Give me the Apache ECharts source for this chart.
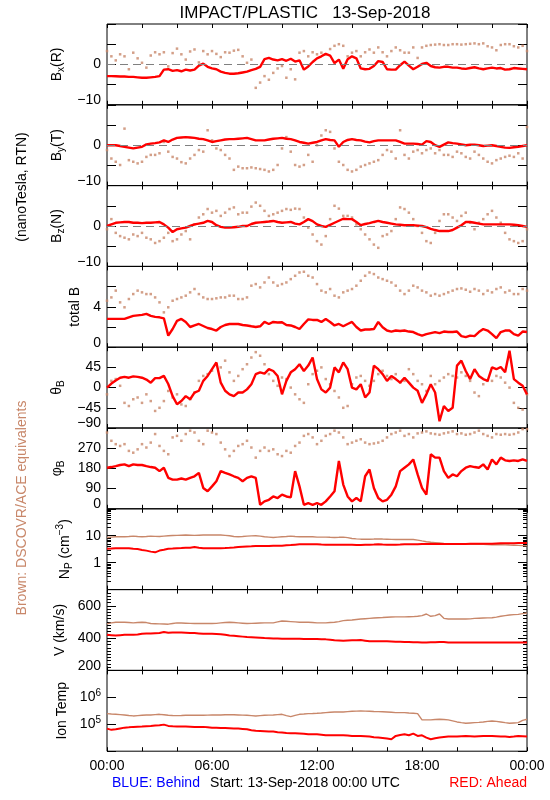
<!DOCTYPE html>
<html><head><meta charset="utf-8">
<script src="https://cdn.jsdelivr.net/npm/echarts@6/dist/echarts.min.js"></script>
<style>html,body{margin:0;padding:0;background:#fff}#c{width:550px;height:800px}</style>
</head><body><div id="c"></div>
<script>
const FONT = 'Liberation Sans, Arial, Helvetica, sans-serif';
const BROWN = '#c8876a';
const RED = '#ff0000';

const xTickLabels = ['00:00', '06:00', '12:00', '18:00', '00:00'];
// one sample every 15 minutes, 00:00 .. 24:00 (97 samples), grouped by hour
const bxAhead = [
 -2.9,-2.9,-2.95,-3.0, -3.0,-3.1,-3.1,-3.2, -3.3,-3.3,-3.2,-3.1, -2.9,-1.3,-1.2,-1.6,
 -1.4,-1.7,-1.3,-1.5, -1.3,-0.3,0.2,-0.6, -1.0,-1.2,-1.8,-2.1, -2.3,-2.3,-2.2,-2.0,
 -1.8,-1.4,-1.1,-0.6, 1.3,1.6,1.2,1.0, 1.3,0.9,1.4,0.7, 1.0,-1.3,-0.5,0.6,
 1.5,2.0,2.6,2.2, 0.3,1.2,-1.1,1.3, 2.0,1.5,-1.0,-1.2, -1.1,-0.4,0.8,0.6,
 -1.2,-1.3,-1.3,-0.2, 0.7,-0.3,-1.2,-0.6, 0.1,0.4,-0.4,-0.7, -0.8,-0.6,-0.6,-0.8,
 -0.8,-1.0,-1.1,-0.9, -0.7,-1.0,-1.2,-1.0, -0.8,-1.0,-0.9,-1.3, -1.2,-0.9,-1.0,-1.1, -1.2];
const bxAce = [
 3.3,2.0,1.0,2.5, 2.0,-1.2,2.9,1.5, 0.4,-0.8,2.2,3.0, 2.5,3.0,-0.5,2.8,
 3.9,2.5,1.2,3.2, 3.7,0.5,3.3,2.5, 3.3,2.6,1.8,3.0, 2.9,3.4,3.6,2.0,
 0.4,1.2,-5.8,-4.5, -2.9,-3.8,-2.1,-1.0, -0.4,-3.3,-1.2,-3.7, 2.9,3.3,2.0,3.0,
 2.5,2.9,2.5,3.8, 4.6,5.0,4.6,2.0, 2.9,3.3,2.0,3.0, 3.7,2.9,4.2,3.0,
 2.0,3.3,4.2,3.5, 2.9,2.9,4.2,1.6, 4.2,4.6,4.8,4.9, 5.0,4.8,4.8,5.0,
 5.0,4.9,5.0,5.1, 5.2,5.0,5.2,4.5, 4.2,3.5,4.8,5.0, 5.0,4.5,4.2,4.6, 3.3];
const byAhead = [
 0.0,0.0,0.0,-0.2, -0.4,-0.6,-0.8,-0.6, -0.4,0.2,0.4,0.5, 0.7,1.2,0.8,1.4,
 1.8,1.9,2.0,1.9, 1.8,1.6,1.5,1.2, 0.8,1.0,1.2,1.4, 1.5,1.5,1.6,1.7,
 1.8,1.5,1.2,1.2, 1.2,1.4,1.6,1.7, 1.8,1.6,1.5,1.2, 0.8,0.6,0.4,0.6,
 0.8,1.2,1.5,1.3, 1.2,-0.4,0.8,1.3, 1.5,1.3,1.2,0.9, 0.7,1.0,1.2,1.2,
 1.2,1.2,1.2,0.8, 0.4,0.4,0.4,0.3, 0.15,1.0,0.8,0.0, -0.4,0.15,0.7,0.5,
 0.4,0.2,0.0,0.1, 0.15,0.0,-0.2,-0.1, 0.0,-0.2,-0.4,-0.6, -0.65,-0.5,-0.4,-0.2, 0.0];
const byAce = [
 -1.2,-3.3,-4.1,-4.9, 4.1,-3.7,-4.1,-4.5, -4.1,-2.9,-2.4,-2.4, -2.0,0.8,-1.6,-2.9,
 -3.3,-4.2,-4.5,-3.3, -2.4,-1.2,-1.6,3.7, 1.2,-0.8,-1.2,-2.4, -3.3,-6.1,-5.3,-5.7,
 -5.7,-5.5,-5.7,-5.9, -6.1,-6.5,-6.1,-4.9, -0.8,2.0,-1.6,-4.9, -5.3,-4.9,-2.4,-4.1,
 0.0,2.4,3.7,3.3, -0.8,-4.1,-4.9,-6.1, -6.5,-6.1,-5.3,-4.9, -4.5,-4.1,-3.7,-2.4,
 -1.2,-1.6,-3.3,3.7, -2.4,-3.3,-1.6,-1.2, -2.0,-1.2,-0.8,-2.0, -1.2,-2.4,-2.4,-2.9,
 -1.6,-2.0,-2.9,-3.3, -1.6,-2.4,-3.3,-4.1, -4.5,-3.7,-3.3,-2.9, -2.6,-2.9,-2.0,-3.3, 4.5];
const bzAhead = [
 0.0,0.4,0.8,0.9, 1.0,1.0,0.8,0.8, 0.7,0.8,0.8,0.9, 1.0,0.4,-0.4,-1.5,
 -0.8,-0.6,-0.4,0.0, 0.4,0.6,0.8,1.25, 1.0,0.2,-0.2,-0.4, -0.4,-0.3,-0.2,0.0,
 0.0,0.5,0.8,0.9, 1.0,1.1,1.25,1.0, 0.8,0.9,1.0,0.6, 0.4,1.0,1.7,1.2,
 0.4,0.0,-0.2,0.3, 0.8,1.3,1.8,1.7, 1.7,1.0,0.2,0.5, 0.7,1.0,1.25,1.0,
 0.8,0.6,0.4,0.3, 0.2,0.2,0.2,0.1, 0.0,-0.3,-0.7,-1.0, -1.25,-1.25,-1.25,-1.0,
 -0.4,0.2,1.0,1.0, 0.8,0.6,0.4,0.4, 0.4,0.4,0.4,0.4, 0.4,0.3,0.2,0.0, -0.2];
const bzAce = [
 -0.8,1.7,-1.7,-2.5, -2.9,-3.3,-2.1,-2.5, -1.7,-2.9,-3.3,-4.2, -3.75,-2.9,-1.7,-3.75,
 -3.3,-2.1,-1.25,-3.3, 0.4,2.1,2.9,4.2, 3.3,3.75,2.5,3.3, 4.2,4.6,2.9,3.3,
 3.3,4.8,5.8,5.0, 3.75,2.5,2.9,3.3, 3.75,4.2,4.0,4.3, 4.2,2.1,-0.4,-2.1,
 -3.75,-4.6,-2.5,1.7, 5.0,4.3,2.5,2.5, 2.1,0.4,-0.8,-2.1, -3.3,-4.6,-5.4,-2.5,
 -2.1,-1.25,1.7,4.6, 4.2,3.3,1.7,0.0, -1.7,-3.75,-4.2,-1.7, 1.25,2.9,2.9,2.1,
 1.25,2.5,3.3,0.8, -0.8,0.8,1.7,2.9, 3.75,2.1,0.8,-1.7, -3.3,-3.75,-4.2,-3.75, -0.8];
const btAhead = [
 2.8,2.8,2.8,2.8, 2.8,2.96,3.1,3.15, 3.2,3.3,3.1,3.0, 2.96,2.86,1.15,1.8,
 2.6,2.8,2.5,2.0, 2.15,2.3,2.1,1.9, 1.8,1.65,2.0,2.2, 2.3,2.3,2.3,2.2,
 2.15,2.07,2.0,2.07, 2.5,2.3,2.5,2.45, 2.47,2.2,2.15,2.0, 1.8,2.3,2.75,2.7,
 2.7,2.5,2.8,2.5, 2.15,2.3,2.07,2.3, 2.5,2.0,1.65,1.75, 1.75,1.8,2.5,1.97,
 1.65,1.55,1.65,1.6, 1.65,1.55,1.5,1.3, 1.15,1.3,1.4,1.5, 1.4,1.55,1.5,1.5,
 1.55,1.1,1.0,1.15, 1.1,1.5,1.8,1.65, 1.3,0.9,1.5,1.65, 1.65,1.3,1.15,1.55, 1.5];
const btAce = [
 4.6,4.93,5.6,4.44, 3.95,4.77,5.26,5.6, 5.43,5.26,5.26,4.93, 4.44,3.45,3.95,4.6,
 4.77,4.93,5.1,5.43, 5.76,5.26,4.93,4.77, 4.77,4.84,4.93,4.93, 5.1,5.1,4.77,4.77,
 4.93,6.09,6.25,5.92, 6.41,6.9,6.41,6.09, 6.25,6.41,6.74,7.07, 7.4,7.47,7.07,6.9,
 6.25,5.6,5.43,5.76, 5.1,4.93,5.43,5.6, 5.76,6.09,6.58,7.07, 7.4,7.24,6.9,6.74,
 6.58,6.41,6.09,5.6, 5.26,5.6,6.09,5.92, 5.6,5.43,5.1,5.26, 5.1,5.26,5.43,5.6,
 5.76,5.82,5.69,5.49, 5.76,5.6,5.26,5.6, 5.43,5.76,5.92,5.43, 5.6,5.26,5.26,5.76, 5.6];
const thetaAhead = [
 0,9,16,22, 24,22,25,24, 22,18,11,21, 21,26,8,-19,
 -37,-30,-19,-26, -11,-7,15,26, 41,56,11,-7, -15,-19,-11,-11,
 -4,7.5,30,34, 31,41,37,26, -15,15,34,41, 52,37,49,67,
 19,-4,-11,0, 45,34,56,41, 0,-4,7.5,-22, -11,49,41,30,
 15,26,19,11, 22,11,0,-7, -34,-15,7.5,-11, -75,-41,-52,-45,
 49,60,37,19, 41,26,19,15, 45,41,46,34, 82,19,11,4, -15];
const thetaAce = [
 -15,15,19,4, -34,-41,-26,-22, -34,-15,-30,-52, -45,-30,-7.5,-22,
 -15,-37.5,-41,-26, -11,15,26,30, 37.5,52,45,60, 34,15,26,41,
 52,67,79,71, 52,30,15,4, 22.5,19,0,-15, -26,-34,7.5,30,
 37.5,45,19,7.5, -7.5,-22,-45,-41, 7.5,22.5,26,15, 4,15,30,37.5,
 26,19,30,11, 15,41,30,15, 7.5,-7.5,26,7.5, 15,22.5,30,26,
 22.5,34,26,15, -11,-19,7.5,15, 15,26,22.5,11, 0,-34,-45,-49, -15];
const phiAhead = [
 183,186,190,195, 198,190,198,195, 195,190,186,183, 168,183,138,130,
 130,135,130,138, 145,160,93,78, 100,123,168,160, 153,145,138,123,
 138,145,138,18, 33,40,55,48, 63,55,51,168, 100,18,25,18,
 25,18,33,55, 78,213,108,55, 33,48,33,145, 175,93,48,33,
 40,63,100,168, 183,198,220,153, 93,63,243,228, 228,168,138,153,
 145,168,183,190, 186,183,198,175, 220,198,228,216, 213,216,213,220, 213];
const phiAce = [
 340,303,288,280, 288,258,250,265, 288,273,295,333, 280,258,243,318,
 325,303,333,348, 340,303,288,348, 340,333,295,265, 235,258,280,288,
 303,273,228,258, 273,258,265,243, 235,258,250,280, 295,325,333,318,
 288,303,325,333, 348,340,318,288, 295,303,310,295, 288,291,295,303,
 318,333,340,348, 325,333,318,336, 340,345,336,333, 330,336,340,345,
 333,336,330,333, 340,348,333,325, 318,333,330,333, 330,333,340,355, 355];
const npAhead = [
 3.26,3.35,3.45,3.45, 3.45,3.4,3.26,3.2, 2.98,2.8,2.57,2.42, 2.81,3.0,3.26,3.35,
 3.45,3.5,3.56,3.6, 3.78,3.6,3.45,3.45, 3.45,3.45,3.45,3.5, 3.56,3.65,3.78,3.9,
 4.0,4.05,4.12,4.12, 4.12,4.2,4.25,4.25, 4.25,4.4,4.5,4.65, 4.78,4.78,4.78,4.78,
 4.78,4.7,4.64,4.64, 4.64,4.64,4.64,4.64, 4.64,4.55,4.5,4.6, 4.64,4.7,4.78,4.7,
 4.64,4.64,4.64,4.7, 4.78,4.78,4.78,4.85, 4.92,4.92,4.92,4.92, 4.92,4.92,4.92,4.92,
 4.92,4.92,4.92,5.0, 5.07,5.07,5.07,5.07, 5.07,5.15,5.22,5.22, 5.22,5.3,5.38,5.38, 5.38];
const npAce = [
 8.63,8.9,9.15,9.15, 9.15,9.4,9.7,9.4, 9.15,9.4,9.7,9.5, 9.4,9.7,10.0,10.15,
 10.3,10.45,10.6,10.45, 10.3,10.45,10.6,10.6, 10.6,10.6,10.6,10.3, 10.0,9.4,9.15,9.4,
 9.7,9.85,10.0,9.7, 9.15,8.9,8.63,8.9, 9.15,9.4,9.7,9.4, 9.15,9.15,9.15,9.15,
 8.9,8.9,8.9,8.75, 8.63,8.75,8.9,8.5, 7.9,7.67,7.45,7.45, 7.45,7.55,7.67,7.55,
 7.45,7.35,7.23,7.23, 7.23,7.23,7.23,6.9, 6.42,6.0,5.7,5.55, 5.38,5.2,5.07,5.0,
 4.92,4.92,4.92,4.85, 4.78,4.78,4.78,4.7, 4.64,4.64,4.64,4.57, 4.5,4.45,4.38,4.3, 4.25];
const vAhead = [
 420,418,416,418, 420,421,420,422, 427,428,429,430, 431,437,433,434,
 435,434,433,432, 431,429,427,427, 427,426,424,420, 416,414,412,409,
 406,405,404,402, 400,399,398,397, 396,396,396,396, 396,395,394,394,
 394,393,392,389, 386,385,384,385, 386,387,388,384, 380,380,380,380,
 380,379,378,377, 376,375,374,374, 373,373,374,374, 376,375,373,373,
 373,373,373,373, 373,373,373,373, 373,373,373,373, 373,373,373,373, 373];
const vAce = [
 488,494,498,498, 498,496,494,496, 498,496,490,489, 488,487,486,490,
 494,493,492,491, 490,490,490,490, 490,491,494,496, 498,496,494,492,
 490,491,492,493, 494,494,494,500, 506,504,502,500, 498,498,498,496,
 494,494,494,496, 498,502,508,510, 512,515,518,520, 522,524,526,527,
 529,530,531,531, 531,532,533,535, 539,549,535,539, 549,522,518,518,
 518,518,518,519, 522,523,524,525, 526,530,535,539, 543,545,547,551, 555];
const tAhead = [
 69000,62000,65000,70000, 75000,77000,80000,81000, 82000,85000,87000,90000, 92000,97000,87000,84000,
 82000,82000,82000,81000, 80000,80000,80000,78000, 75000,74000,73000,72000, 71000,70000,69000,67000,
 65000,60000,57000,56000, 55000,54000,53500,51000, 49000,47000,46500,46000, 45000,44000,42500,42500,
 42500,41000,39000,39000, 39000,39000,39000,38000, 37000,37000,37000,36000, 35000,33000,32000,31000,
 29500,27800,37000,40000, 42500,39000,45000,37000, 39000,32000,27800,30000, 32000,33500,35000,35000,
 35000,36000,37000,36000, 35000,36000,37000,37000, 37000,36000,35000,35000, 34000,35000,37000,36000, 35000];
const tAce = [
 248000,240000,234000,228000, 222000,212000,204000,210000, 215000,220000,222000,228000, 234000,225000,215000,212000,
 210000,212000,215000,215000, 215000,215000,215000,218000, 222000,222000,222000,225000, 228000,225000,222000,218000,
 215000,210000,204000,210000, 215000,218000,222000,228000, 234000,210000,192000,215000, 234000,240000,248000,250000,
 255000,262000,270000,278000, 286000,286000,286000,295000, 303000,308000,312000,308000, 303000,298000,294000,290000,
 286000,278000,270000,270000, 270000,262000,255000,248000, 145000,145000,145000,150000, 153000,150000,145000,133000,
 122000,115000,109000,112000, 115000,118000,122000,128000, 133000,128000,122000,115000, 109000,112000,115000,140000, 153000];

// tick labels shown on each panel's left axis (value -> text)
const bLabels = {'-10': '\u221210', '0': '0'};
const btLabels = {'0': '0', '4': '4'};
const thetaLabels = {'-90': '\u221290', '-45': '\u221245', '0': '0', '45': '45'};
const phiLabels = {'0': '0', '90': '90', '180': '180', '270': '270'};
const npLabels = {'1': '1', '10': '10'};
const vLabels = {'200': '200', '400': '400', '600': '600'};
const tLabels = {'100000': '10{sup|5}', '1000000': '10{sup|6}'};

const times = [];
for (let i = 0; i < bxAhead.length; i++) {
  const m = i * 15, h = Math.floor(m / 60) % 24, mm = m % 60;
  times.push((h < 10 ? '0' : '') + h + ':' + (mm < 10 ? '0' : '') + mm + '#' + i);
}

const panels = [
  {name: '{n|B}{s|x}{n|(R)}', gap: 31, min: -10, max: 10, interval: 5, labels: bLabels, zero: true, red: bxAhead, brown: bxAce},
  {name: '{n|B}{s|y}{n|(T)}', gap: 31, min: -10, max: 10, interval: 5, labels: bLabels, zero: true, red: byAhead, brown: byAce},
  {name: '{n|B}{s|z}{n|(N)}', gap: 31, min: -10, max: 10, interval: 5, labels: bLabels, zero: true, red: bzAhead, brown: bzAce},
  {name: '{n|total B}', gap: 19, min: 0, max: 8, interval: 2, labels: btLabels, red: btAhead, brown: btAce},
  {name: '{n|\u03b8}{s|B}', gap: 29, min: -90, max: 90, interval: 45, labels: thetaLabels, red: thetaAhead, brown: thetaAce},
  {name: '{n|\u03c6}{s|B}', gap: 29, min: 0, max: 360, interval: 90, labels: phiLabels, red: phiAhead, brown: phiAce},
  {name: '{n|N}{s|P}{n| (cm}{p|\u22123}{n|)}', gap: 24, log: true, min: 0.1, max: 100, labels: npLabels, minor: 9, red: npAhead, brown: npAce, brownLine: true},
  {name: '{n|V (km/s)}', gap: 29, min: 200, max: 700, interval: 200, labels: vLabels, minor: 10, red: vAhead, brown: vAce, brownLine: true},
  {name: '{n|Ion Temp}', gap: 26, log: true, min: 1e4, max: 1e7, labels: tLabels, red: tAhead, brown: tAce, brownLine: true}
];

const TOP = 24, H = 80.8, LEFT = 107, RIGHT = 23;
const grids = [], xAxes = [], yAxes = [], series = [];
const nameRich = {
  n: {fontSize: 14, fontFamily: FONT, color: '#000', lineHeight: 19},
  s: {fontSize: 10, fontFamily: FONT, color: '#000', lineHeight: 10, padding: [9, 0, 0, 0]},
  p: {fontSize: 10, fontFamily: FONT, color: '#000', lineHeight: 10, padding: [0, 0, 9, 0]}
};

panels.forEach((p, i) => {
  grids.push({left: LEFT, right: RIGHT, top: TOP + H * i, height: H, show: true,
    borderColor: '#000', borderWidth: 1, backgroundColor: 'transparent'});
  const last = i === panels.length - 1;
  const xBase = {
    type: 'category', data: times, boundaryGap: false, gridIndex: i,
    axisLine: {show: false, onZero: false}, splitLine: {show: false},
    axisTick: {show: true, inside: true, length: 4, interval: idx => idx % 8 === 0, lineStyle: {color: '#000'}}
  };
  xAxes.push(Object.assign({}, xBase, {
    position: 'bottom',
    axisLabel: last ? {show: true, interval: idx => idx % 24 === 0, margin: 8,
      formatter: (v, idx) => xTickLabels[idx / 24], fontSize: 14, fontFamily: FONT, color: '#000'} : {show: false}
  }));
  xAxes.push(Object.assign({}, xBase, {position: 'top', axisLabel: {show: false}}));

  const yBase = {
    type: p.log ? 'log' : 'value', logBase: 10, min: p.min, max: p.max, gridIndex: i,
    axisLine: {show: false, onZero: false}, splitLine: {show: false},
    axisTick: {show: true, inside: true, length: 9, lineStyle: {color: '#000'}},
    minorTick: p.minor ? {show: true, splitNumber: p.minor, length: 4, lineStyle: {color: '#000'}} : {show: false}
  };
  if (p.interval) yBase.interval = p.interval;
  yAxes.push(Object.assign({}, yBase, {
    position: 'left',
    name: p.name, nameLocation: 'middle', nameRotate: 90, nameGap: p.gap,
    nameTextStyle: {rich: nameRich},
    axisLabel: {show: true, margin: 6, fontSize: 14, fontFamily: FONT, color: '#000',
      formatter: v => {
        const k = String(+v.toPrecision(6));
        if (!(k in p.labels)) return '';
        return (+k === p.min) ? '{b|' + p.labels[k] + '}' : p.labels[k];
      },
      rich: {
        b: {fontSize: 14, fontFamily: FONT, color: '#000', padding: [0, 0, 9, 0]},
        sup: {fontSize: 10, fontFamily: FONT, color: '#000', padding: [0, 0, 8, 0]}
      }
    }
  }));
  yAxes.push(Object.assign({}, yBase, {position: 'right', axisLabel: {show: false}}));

  const brown = {
    name: 'ACE', xAxisIndex: 2 * i, yAxisIndex: 2 * i, data: p.brown, z: 2, silent: true
  };
  if (p.brownLine) {
    Object.assign(brown, {type: 'line', showSymbol: false, lineStyle: {color: BROWN, width: 1.4}, itemStyle: {color: BROWN}});
  } else {
    Object.assign(brown, {type: 'scatter', symbol: 'rect', symbolSize: 2.5, itemStyle: {color: BROWN}});
  }
  if (p.zero) {
    brown.markLine = {silent: true, symbol: 'none', label: {show: false},
      lineStyle: {color: '#808080', type: [8, 5], width: 1}, data: [{yAxis: 0}]};
  }
  series.push(brown);
  series.push({
    name: 'Ahead', type: 'line', xAxisIndex: 2 * i, yAxisIndex: 2 * i, data: p.red, z: 3,
    showSymbol: false, silent: true, lineStyle: {color: RED, width: p.brownLine ? 2 : 2.4}, itemStyle: {color: RED}
  });
});

const chart = echarts.init(document.getElementById('c'), null, {renderer: 'canvas'});
chart.setOption({
  animation: false,
  backgroundColor: '#fff',
  textStyle: {fontFamily: FONT},
  grid: grids, xAxis: xAxes, yAxis: yAxes, series: series,
  graphic: [
    {type: 'text', x: 305, y: 13, style: {text: 'IMPACT/PLASTIC   13-Sep-2018', fontSize: 17, fontFamily: FONT, fill: '#000', align: 'center', verticalAlign: 'middle'}},
    {type: 'text', x: 22, y: 187, rotation: Math.PI / 2, style: {text: '(nanoTesla, RTN)', fontSize: 14, fontFamily: FONT, fill: '#000', align: 'center', verticalAlign: 'middle'}},
    {type: 'text', x: 22, y: 508, rotation: Math.PI / 2, style: {text: 'Brown: DSCOVR/ACE equivalents', fontSize: 14, fontFamily: FONT, fill: BROWN, align: 'center', verticalAlign: 'middle'}},
    {type: 'text', x: 112, y: 783, style: {text: 'BLUE: Behind', fontSize: 14, fontFamily: FONT, fill: '#0000ff', align: 'left', verticalAlign: 'middle'}},
    {type: 'text', x: 305, y: 783, style: {text: 'Start: 13-Sep-2018 00:00 UTC', fontSize: 14, fontFamily: FONT, fill: '#000', align: 'center', verticalAlign: 'middle'}},
    {type: 'text', x: 527, y: 783, style: {text: 'RED: Ahead', fontSize: 14, fontFamily: FONT, fill: RED, align: 'right', verticalAlign: 'middle'}}
  ]
});
</script></body></html>
